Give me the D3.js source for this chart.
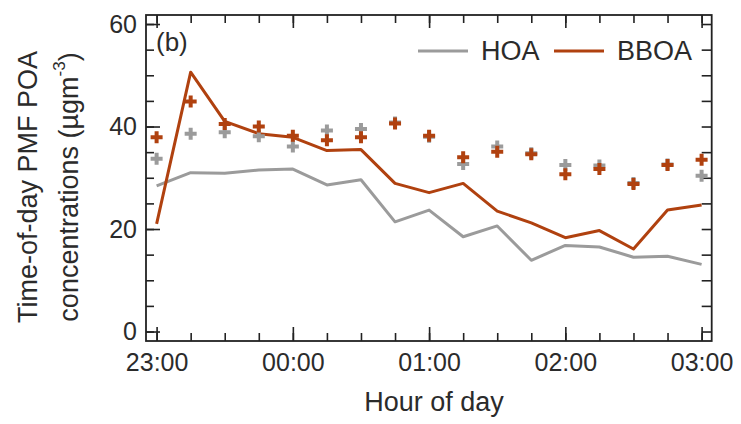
<!DOCTYPE html>
<html>
<head>
<meta charset="utf-8">
<script src="https://cdn.jsdelivr.net/npm/d3@7"></script>
<style>
  html, body { margin: 0; padding: 0; background: #fff; }
  svg { display: block; font-family: "Liberation Sans", Arial, sans-serif; }
</style>
</head>
<body>
<svg id="chart" width="741" height="424"></svg>
<script>
// ---- data ----
const times = ["23:00","23:15","23:30","23:45","00:00","00:15","00:30","00:45",
               "01:00","01:15","01:30","01:45","02:00","02:15","02:30","02:45","03:00"];
const hoaLine  = [28.4, 31.0, 30.9, 31.5, 31.7, 28.6, 29.6, 21.4, 23.7, 18.5, 20.6, 13.9, 16.8, 16.5, 14.5, 14.7, 13.1];
const bboaLine = [21.0, 50.6, 41.0, 38.6, 37.9, 35.3, 35.5, 28.9, 27.1, 28.9, 23.5, 21.2, 18.3, 19.7, 16.1, 23.7, 24.7];
const hoaCross  = [33.7, 38.6, 38.9, 38.1, 36.1, 39.2, 39.5, 40.8, 38.0, 32.7, 36.1, 34.8, 32.5, 32.4, 29.0, 32.6, 30.4];
const bboaCross = [37.9, 44.9, 40.5, 40.0, 38.2, 37.3, 37.9, 40.6, 38.2, 34.0, 35.1, 34.6, 30.7, 31.7, 28.8, 32.5, 33.5];
const xTickLabels = ["23:00","00:00","01:00","02:00","03:00"];
const yTickValues = [0, 20, 40, 60];
const seriesNames = ["HOA", "BBOA"];
const colors = { HOA: "#9b9b9b", BBOA: "#b0410f" };

// ---- helpers ----
function toDate(s) {
  const [h, m] = s.split(":").map(Number);
  const day = h >= 12 ? 0 : 1;
  return new Date(2020, 0, 1 + day, h, m);
}
const tDates = times.map(toDate);
const xt0 = toDate("23:00"), xt1 = toDate("03:00");

const svg = d3.select("#chart");
const L = 146, R = 711.7, T = 15, B = 341;

const x = d3.scaleTime()
  .domain([new Date(+xt0 - 4.67 * 60000), new Date(+xt1 + 4.45 * 60000)])
  .range([L, R]);
const y = d3.scaleLinear().domain([-1.85, 61.76]).range([B, T]);

const ink = "#222";
const txt = "#2b2b2b";

// minor/major ticks
const minorX = d3.range(0, 17).map(i => new Date(+xt0 + i * 15 * 60000));
const majorX = xTickLabels.map(toDate);
const minorY = d3.range(0, 61, 5);

const g = svg.append("g");

// bottom axis
const axB = g.append("g").attr("transform", `translate(0,${B})`);
axB.call(d3.axisBottom(x).tickValues(minorX).tickSize(-8).tickFormat(""));
axB.append("g").call(d3.axisBottom(x).tickValues(majorX).tickSize(-14)
  .tickFormat((d, i) => xTickLabels[i]).tickPadding(12));
// top axis
const axT = g.append("g").attr("transform", `translate(0,${T})`);
axT.call(d3.axisTop(x).tickValues(minorX).tickSize(-8).tickFormat(""));
axT.append("g").call(d3.axisTop(x).tickValues(majorX).tickSize(-13).tickFormat(""));
// left axis
const axL = g.append("g").attr("transform", `translate(${L},0)`);
axL.call(d3.axisLeft(y).tickValues(minorY).tickSize(-8).tickFormat(""));
axL.append("g").call(d3.axisLeft(y).tickValues(yTickValues).tickSize(-14).tickPadding(-6)
  .tickFormat(d3.format("d")));
// right axis
const axR = g.append("g").attr("transform", `translate(${R},0)`);
axR.call(d3.axisRight(y).tickValues(minorY).tickSize(-10).tickFormat(""));

g.selectAll(".domain").remove();
g.selectAll(".tick line").attr("stroke", ink).attr("stroke-width", 1.6);
g.selectAll(".tick text").attr("fill", txt).style("font-size", "25px")
  .style("font-family", '"Liberation Sans", Arial, sans-serif');
axL.selectAll(".tick text").attr("x", -9).attr("text-anchor", "end");
axB.selectAll(".tick text").attr("dy", "0.71em");

// frame
svg.append("rect").attr("x", L).attr("y", T).attr("width", R - L).attr("height", B - T)
  .attr("fill", "none").attr("stroke", ink).attr("stroke-width", 1.8);

// lines
const line = d3.line().x((d, i) => x(tDates[i])).y(d => y(d));
[["HOA", hoaLine], ["BBOA", bboaLine]].forEach(([name, vals]) => {
  svg.append("path").datum(vals).attr("d", line)
    .attr("fill", "none").attr("stroke", colors[name]).attr("stroke-width", 3)
    .attr("stroke-linejoin", "round");
});

// crosses
const cross = d3.symbol(d3.symbolCross, 80);
[["HOA", hoaCross], ["BBOA", bboaCross]].forEach(([name, vals]) => {
  svg.append("g").selectAll("path").data(vals).join("path")
    .attr("d", cross)
    .attr("transform", (d, i) => `translate(${x(tDates[i])},${y(d)})`)
    .attr("fill", colors[name]);
});

// panel label
svg.append("text").attr("x", 156).attr("y", 51).text("(b)")
  .attr("fill", txt).style("font-size", "26px");

// legend
const legend = [
  { name: "HOA", x1: 418, x2: 468, tx: 481 },
  { name: "BBOA", x1: 554, x2: 604, tx: 617 }
];
legend.forEach(l => {
  svg.append("line").attr("x1", l.x1).attr("x2", l.x2).attr("y1", 51).attr("y2", 51)
    .attr("stroke", colors[l.name]).attr("stroke-width", 3);
  svg.append("text").attr("x", l.tx).attr("y", 60).text(l.name)
    .attr("fill", txt).style("font-size", "27px");
});

// axis titles
svg.append("text").attr("x", 434).attr("y", 411).attr("text-anchor", "middle")
  .attr("fill", txt).style("font-size", "27px").text("Hour of day");

const yt = svg.append("g").attr("transform", "translate(0,187) rotate(-90)");
yt.append("text").attr("x", 0).attr("y", 37).attr("text-anchor", "middle")
  .attr("fill", txt).style("font-size", "27px").text("Time-of-day PMF POA");
const t2 = yt.append("text").attr("x", 0).attr("y", 78).attr("text-anchor", "middle")
  .attr("fill", txt).style("font-size", "27px");
t2.append("tspan").text("concentrations (µgm");
t2.append("tspan").attr("dy", -13).style("font-size", "17px").text("-3");
t2.append("tspan").attr("dy", 13).text(")");
</script>
</body>
</html>
